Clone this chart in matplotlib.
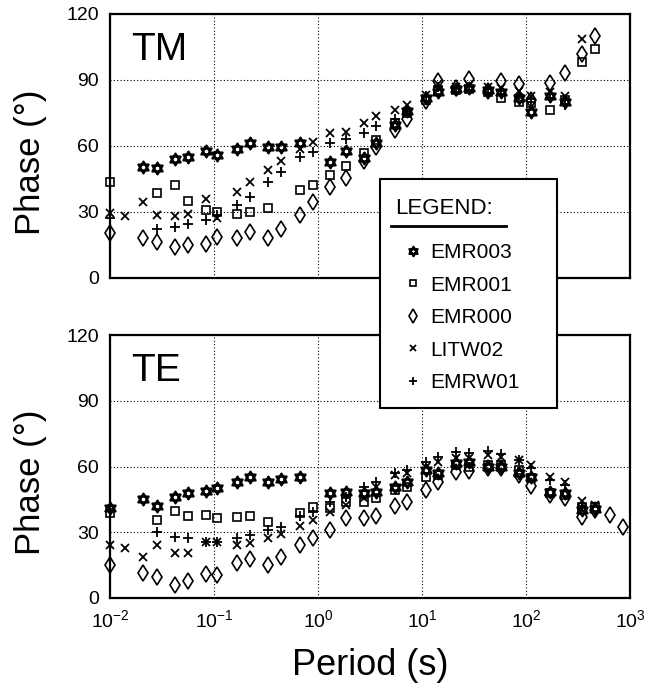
import numpy as np
import matplotlib
matplotlib.use('Agg')
import matplotlib.pyplot as plt
from matplotlib.path import Path
from matplotlib.lines import Line2D
from matplotlib.patches import Rectangle

plt.rcParams['font.family'] = ['Liberation Sans', 'DejaVu Sans']
plt.rcParams['mathtext.fontset'] = 'custom'
plt.rcParams['mathtext.rm'] = 'Liberation Sans'
plt.rcParams['mathtext.it'] = 'Liberation Sans'
plt.rcParams['mathtext.bf'] = 'Liberation Sans'

nan = np.nan

# periods (s) shared by all stations
period = [0.0100, 0.0139, 0.0207, 0.0282, 0.0418, 0.0557, 0.083, 0.108, 0.168, 0.223,
          0.332, 0.443, 0.67, 0.895, 1.30, 1.85, 2.75, 3.6, 5.45, 7.1,
          11.0, 14.1, 21.4, 28.5, 43.3, 57.7, 85.7, 112, 170, 236,
          344, 457, 640, 850]

stations = ['EMR003', 'EMR001', 'EMR000', 'LITW02', 'EMRW01']

# TM phase (degrees)
tm_emr003 = [nan, nan, 50.6, 49.8, 54.0, 55.2, 57.9, 55.9, 58.5, 61.2,
             59.7, 59.7, 61.3, nan, 52.9, 57.7, 54.4, 61.2, 69.5, 76.0,
             82.0, 84.5, 86.0, 86.5, 85.5, 84.5, 82.0, 75.5, 82.5, 80.0,
             nan, nan, nan, nan]
tm_emr001 = [43.6, nan, nan, 38.5, 42.3, 35.2, 30.9, 30.1, 29.0, 29.8,
             32.0, nan, 40.0, 42.5, 46.8, 50.9, 56.7, 62.7, 70.5, 75.0,
             81.0, 85.5, 85.5, 86.0, 84.5, 82.0, 80.0, 79.5, 76.4, 81.0,
             98.3, 104.0, nan, nan]
tm_emr000 = [20.4, nan, 18.0, 16.5, 14.2, 15.0, 15.5, 18.5, 18.0, 21.0,
             18.0, 22.1, 28.6, 34.5, 41.5, 45.3, 53.3, 59.7, 67.5, 72.5,
             80.5, 89.5, 86.5, 90.5, 85.0, 89.5, 88.0, 81.0, 88.5, 93.0,
             102.0, 110.0, nan, nan]
tm_litw02 = [29.5, 28.3, 34.7, 28.6, 28.2, 29.0, 35.8, 27.1, 39.3, 43.5,
             49.1, 53.3, 58.7, 61.6, 65.8, 66.5, 70.3, 73.6, 76.4, 78.6,
             83.0, 88.0, 87.0, 87.5, 87.0, 86.5, 85.0, 82.5, 84.5, 82.5,
             108.5, nan, nan, nan]
tm_emrw01 = [27.5, nan, nan, 22.1, 23.0, 24.5, 26.4, 28.5, 33.0, 37.0,
             43.5, 48.3, 54.8, 57.2, 61.2, 63.0, 65.8, 69.1, 72.5, 76.0,
             82.5, 87.0, 86.5, 85.5, 86.0, 85.0, 83.0, 80.0, 82.0, 78.6,
             nan, nan, nan, nan]

# TE phase (degrees)
te_emr003 = [41.0, nan, 45.0, 42.0, 46.3, 48.1, 49.0, 50.1, 53.1, 55.4,
             53.1, 54.2, 55.4, nan, 47.8, 48.5, 47.8, 48.5, 50.8, 53.1,
             58.4, 57.2, 61.5, 62.2, 60.0, 60.0, 56.9, 55.4, 48.5, 47.8,
             40.2, 40.5, nan, nan]
te_emr001 = [38.8, nan, nan, 35.6, 39.9, 37.6, 37.9, 36.4, 37.1, 37.4,
             34.8, nan, 39.0, 41.7, 41.0, 44.0, 44.0, 45.5, 49.3, 50.8,
             55.4, 56.2, 60.7, 60.0, 60.7, 60.7, 58.4, 54.7, 48.1, 47.0,
             41.4, 41.4, nan, nan]
te_emr000 = [15.0, nan, 11.6, 9.7, 5.9, 7.8, 11.0, 10.5, 15.8, 17.8,
             15.1, 18.6, 24.2, 27.3, 31.2, 36.4, 36.4, 37.4, 42.0, 44.0,
             49.3, 53.1, 57.7, 58.1, 59.2, 59.2, 56.2, 51.1, 46.8, 45.5,
             37.1, 40.2, 37.9, 32.6]
te_litw02 = [24.2, 22.7, 18.9, 24.2, 20.7, 20.4, 25.7, 25.7, 24.2, 25.0,
             27.3, 29.2, 32.9, 35.6, 39.4, 42.5, 45.5, 50.8, 56.2, 56.9,
             60.0, 62.2, 63.8, 63.8, 65.3, 64.5, 63.0, 60.7, 55.4, 53.1,
             44.3, 42.5, nan, nan]
te_emrw01 = [nan, nan, nan, 30.3, 27.7, 27.3, 25.7, 25.7, 27.3, 28.8,
             31.0, 32.6, 37.5, 39.4, 44.0, 46.3, 50.8, 53.1, 57.0, 58.4,
             62.2, 64.5, 66.8, 66.1, 67.3, 65.6, 63.0, 59.2, 53.9, 51.6,
             42.0, nan, nan, nan]

tm_data = [tm_emr003, tm_emr001, tm_emr000, tm_litw02, tm_emrw01]
te_data = [te_emr003, te_emr001, te_emr000, te_litw02, te_emrw01]

# star of David marker: two overlapping triangles
ang_up = np.deg2rad([90, 210, 330])
ang_dn = np.deg2rad([270, 30, 150])
verts = ([(np.cos(a), np.sin(a)) for a in ang_up] + [(0, 0)] +
         [(np.cos(a), np.sin(a)) for a in ang_dn] + [(0, 0)])
codes = [Path.MOVETO, Path.LINETO, Path.LINETO, Path.CLOSEPOLY] * 2
hexagram = Path(verts, codes)

styles = [
    dict(marker=hexagram, ms=8.5, mew=1.6),
    dict(marker='s', ms=6.0, mew=1.2),
    dict(marker='d', ms=8.5, mew=1.2),
    dict(marker='x', ms=5.5, mew=1.3),
    dict(marker='+', ms=7.5, mew=1.3),
]

fig = plt.figure(figsize=(6.45, 6.89), dpi=100)
ax_tm = fig.add_axes([110 / 645, 1 - 278 / 689, 520 / 645, 264 / 689])
ax_te = fig.add_axes([110 / 645, 1 - 598 / 689, 520 / 645, 263 / 689])


def style_axes(ax, name, show_x):
    ax.set_xscale('log')
    ax.set_xlim(1e-2, 1e3)
    ax.set_ylim(0, 120)
    ax.set_yticks([0, 30, 60, 90, 120])
    ax.set_xticks([1e-2, 1e-1, 1e0, 1e1, 1e2, 1e3])
    ax.xaxis.set_minor_locator(matplotlib.ticker.NullLocator())
    ax.grid(True, color='black', linestyle=(0, (1, 2)), linewidth=0.8)
    ax.tick_params(length=0, labelsize=14, pad=8)
    for s in ax.spines.values():
        s.set_linewidth(1.6)
    if not show_x:
        ax.tick_params(labelbottom=False)
    ax.set_ylabel('Phase (°)', fontsize=25)
    ax.yaxis.set_label_coords(-0.122, 0.44)
    ax.text(0.04, 0.93, name, transform=ax.transAxes, fontsize=28,
            va='top', ha='left')


for ax, data, name in [(ax_tm, tm_data, 'TM'), (ax_te, te_data, 'TE')]:
    for vals, st, lab in zip(data, styles, stations):
        ax.plot(period, vals, linestyle='none', color='black',
                mfc='none', mec='black', label=lab, clip_on=False, **st)
    style_axes(ax, name, show_x=(name == 'TE'))

ax_te.set_xlabel('Period (s)', fontsize=26)
ax_te.xaxis.set_label_coords(0.5, -0.19)

# legend box straddling both panels
box = Rectangle((380 / 645, 1 - 408 / 689), 177 / 645, 229 / 689,
                transform=fig.transFigure, facecolor='white',
                edgecolor='black', linewidth=1.5, zorder=4)
fig.patches.append(box)

title = fig.text(395 / 645, 1 - 209 / 689, 'LEGEND:', fontsize=16,
                 ha='left', va='center', zorder=6)
fig.lines.append(Line2D([391 / 645, 506 / 645], [1 - 226 / 689, 1 - 226 / 689],
                        transform=fig.transFigure, color='black',
                        linewidth=2, zorder=6))

handles, labels = ax_tm.get_legend_handles_labels()
leg = fig.legend(handles, labels, loc='upper left',
                 bbox_to_anchor=(391 / 645, 1 - 235 / 689),
                 bbox_transform=fig.transFigure, frameon=False,
                 fontsize=15, handlelength=1.3, handletextpad=0.2,
                 labelspacing=0.645, borderaxespad=0, markerscale=0.8)
leg.set_zorder(5)

fig.savefig('out.png', dpi=100, facecolor='white')
